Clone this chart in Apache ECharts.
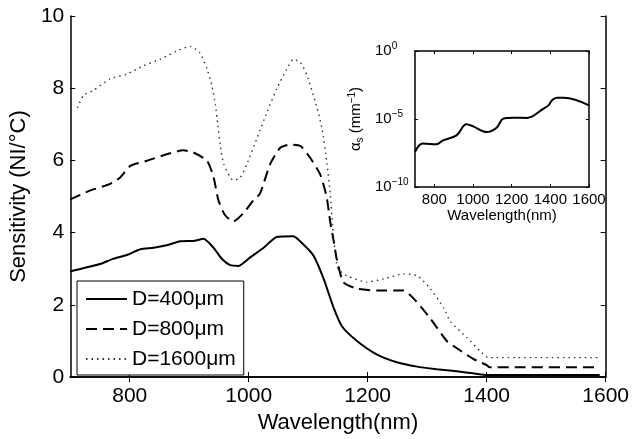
<!DOCTYPE html>
<html>
<head>
<meta charset="utf-8">
<script src="https://cdn.jsdelivr.net/npm/echarts@6/dist/echarts.min.js"></script>
<style>html,body{margin:0;padding:0;background:#fff}#c{width:632px;height:439px}</style>
</head>
<body>
<div id="c"></div>
<script>
// ---- main chart data ----
const x400 = [700,706,728,750,773,795,818,840,862,885,907,924,941,955,969,983,1002,1025,1047,1075,1092,1109,1126,1143,1157,1182,1215,1249,1283,1316,1350,1380,1400,1590];
const y400 = [2.92,2.95,3.04,3.13,3.28,3.38,3.54,3.58,3.65,3.76,3.77,3.83,3.58,3.27,3.10,3.08,3.31,3.58,3.88,3.90,3.67,3.36,2.72,1.91,1.40,1.00,0.63,0.41,0.29,0.22,0.16,0.10,0.06,0.06];

const x800 = [700,734,767,784,801,829,862,890,907,930,941,949,960,974,991,1008,1019,1036,1053,1070,1087,1103,1120,1131,1137,1143,1148,1159,1182,1215,1260,1277,1305,1333,1350,1378,1400,1405,1590];
const y800 = [4.92,5.17,5.35,5.53,5.85,5.99,6.17,6.28,6.22,5.99,5.53,4.90,4.49,4.31,4.54,4.90,5.08,5.90,6.35,6.44,6.40,6.08,5.62,4.99,4.30,3.75,3.27,2.63,2.45,2.40,2.40,2.18,1.63,1.00,0.80,0.50,0.33,0.27,0.27];

const x1600 = [712,722,739,767,795,823,851,879,902,918,930,938,944,948,952,958,974,986,997,1014,1031,1047,1064,1075,1087,1098,1112,1123,1131,1137,1141,1145,1150,1165,1198,1227,1260,1283,1305,1328,1339,1367,1389,1403,1590];
const y1600 = [7.45,7.80,7.94,8.26,8.39,8.62,8.80,9.03,9.16,8.98,8.53,8.08,7.53,6.99,6.44,5.90,5.45,5.53,5.90,6.62,7.35,7.98,8.53,8.80,8.71,8.35,7.62,6.90,5.99,5.08,4.20,3.50,3.00,2.81,2.63,2.72,2.86,2.81,2.45,1.91,1.54,1.09,0.72,0.54,0.54];

const seriesNames = ['D=400\u03bcm','D=800\u03bcm','D=1600\u03bcm'];
const mainTicks = [800,1000,1200,1400,1600];

// ---- inset data (scattering coefficient, mm^-1) ----
const xInset = [700,741,811,845,915,966,1001,1070,1122,1157,1209,1278,1365,1390,1410,1434,1469,1600];
const yInset = [3.7e-8,1.55e-7,1.4e-7,2.7e-7,6.3e-7,4.1e-6,2.9e-6,1.1e-6,2.3e-6,1.07e-5,1.26e-5,1.2e-5,5.8e-5,1.0e-4,2.5e-4,3.7e-4,3.7e-4,1.0e-4];
const insetYTicks = [1e-10,1e-5,1];
const insetXTicks = [800,1000,1200,1400,1600];

const pair = (xs, ys) => xs.map((x, i) => [x, ys[i]]);
const FF = '"Liberation Sans", Arial, Helvetica, sans-serif';
const plain = v => String(v);

const chart = echarts.init(document.getElementById('c'), null, {renderer: 'canvas'});
const axLine = {show: true, lineStyle: {color: '#000', width: 1.5}};

function supLabel(v) {
  const e = Math.round(Math.log10(v));
  const s = (e < 0 ? '\u2212' : '') + Math.abs(e);
  return '{b|10}{s|' + s + '}';
}

chart.setOption({
  backgroundColor: '#fff',
  animation: false,
  textStyle: {fontFamily: FF, color: '#000'},
  grid: [
    {left: 70, top: 16, width: 536, height: 367, show: false},
    {left: 415, top: 51, width: 174, height: 136, show: true, backgroundColor: '#fff', borderWidth: 0}
  ],
  legend: {
    data: seriesNames,
    orient: 'vertical',
    left: 77, top: 281,
    borderColor: '#000', borderWidth: 1, backgroundColor: '#fff',
    padding: [7, 8, 5, 8],
    itemWidth: 41, itemHeight: 14, itemGap: 8,
    itemStyle: {opacity: 0},
    textStyle: {fontSize: 21, fontFamily: FF, color: '#000', lineHeight: 22}
  },
  xAxis: [
    {gridIndex: 0, type: 'value', min: 700, max: 1600, position: 'bottom',
     name: 'Wavelength(nm)', nameLocation: 'middle', nameGap: 32,
     nameTextStyle: {fontSize: 22, color: '#000', fontFamily: FF},
     axisLine: axLine, splitLine: {show: false},
     axisTick: {inside: true, length: 5, customValues: mainTicks, lineStyle: {color: '#000'}},
     axisLabel: {customValues: mainTicks, formatter: plain, fontSize: 21, color: '#000', margin: 9, fontFamily: FF}},
    {gridIndex: 0, type: 'value', min: 700, max: 1600, position: 'top',
     axisLine: axLine, splitLine: {show: false},
     axisTick: {inside: true, length: 5, customValues: mainTicks, lineStyle: {color: '#000'}},
     axisLabel: {show: false}},
    {gridIndex: 1, type: 'value', min: 700, max: 1600, position: 'bottom',
     name: 'Wavelength(nm)', nameLocation: 'middle', nameGap: 21,
     nameTextStyle: {fontSize: 15, color: '#000', fontFamily: FF},
     axisLine: axLine, splitLine: {show: false},
     axisTick: {inside: true, length: 3, customValues: insetXTicks, lineStyle: {color: '#000'}},
     axisLabel: {customValues: insetXTicks, formatter: plain, fontSize: 15, color: '#000', margin: 5, fontFamily: FF, hideOverlap: false}},
    {gridIndex: 1, type: 'value', min: 700, max: 1600, position: 'top',
     axisLine: axLine, splitLine: {show: false},
     axisTick: {inside: true, length: 3, customValues: insetXTicks, lineStyle: {color: '#000'}},
     axisLabel: {show: false}}
  ],
  yAxis: [
    {gridIndex: 0, type: 'value', min: 0, max: 10, interval: 2, position: 'left',
     name: 'Sensitivity (NI/\u00b0C)', nameLocation: 'middle', nameGap: 33, nameRotate: 90,
     nameTextStyle: {fontSize: 22, color: '#000', fontFamily: FF},
     axisLine: axLine, splitLine: {show: false},
     axisTick: {inside: true, length: 5, lineStyle: {color: '#000'}},
     axisLabel: {fontSize: 21, color: '#000', margin: 6, fontFamily: FF}},
    {gridIndex: 0, type: 'value', min: 0, max: 10, interval: 2, position: 'right',
     axisLine: axLine, splitLine: {show: false},
     axisTick: {inside: true, length: 5, lineStyle: {color: '#000'}},
     axisLabel: {show: false}},
    {gridIndex: 1, type: 'log', logBase: 10, min: 1e-10, max: 1, position: 'left',
     name: '{a|\u03b1}{sub|s}{a| (mm}{sup|\u22121}{a|)}', nameLocation: 'middle', nameGap: 50, nameRotate: 90,
     nameTextStyle: {fontSize: 15, color: '#000', fontFamily: FF,
       rich: {a: {fontSize: 15, fontFamily: FF}, sub: {fontSize: 10, fontFamily: FF, verticalAlign: 'bottom', padding: [8,0,0,0]}, sup: {fontSize: 10, fontFamily: FF, verticalAlign: 'top', padding: [0,0,8,0]}}},
     axisLine: axLine, splitLine: {show: false}, minorTick: {show: false},
     axisTick: {inside: true, length: 3, customValues: insetYTicks, lineStyle: {color: '#000'}},
     axisLabel: {customValues: insetYTicks, margin: 40, align: 'left', formatter: supLabel,
       rich: {b: {fontSize: 15, fontFamily: FF, color: '#000'}, s: {fontSize: 10, fontFamily: FF, color: '#000', verticalAlign: 'top', padding: [0,0,10,0]}}}},
    {gridIndex: 1, type: 'log', logBase: 10, min: 1e-10, max: 1, position: 'right',
     axisLine: axLine, splitLine: {show: false},
     axisTick: {inside: true, length: 3, customValues: insetYTicks, lineStyle: {color: '#000'}},
     axisLabel: {show: false}}
  ],
  series: [
    {name: seriesNames[0], type: 'line', xAxisIndex: 0, yAxisIndex: 0, data: pair(x400, y400),
     symbol: 'none', showSymbol: false, smooth: 0.2, lineStyle: {color: '#000', width: 2, type: 'solid'}, itemStyle: {color: '#000'}},
    {name: seriesNames[1], type: 'line', xAxisIndex: 0, yAxisIndex: 0, data: pair(x800, y800),
     symbol: 'none', showSymbol: false, smooth: 0.2, lineStyle: {color: '#000', width: 2, type: [11, 6]}, itemStyle: {color: '#000'}},
    {name: seriesNames[2], type: 'line', xAxisIndex: 0, yAxisIndex: 0, data: pair(x1600, y1600),
     symbol: 'none', showSymbol: false, smooth: 0.2, lineStyle: {color: '#333', width: 1.4, type: [1.5, 4]}, itemStyle: {color: '#333'}},
    {name: 'alpha', type: 'line', xAxisIndex: 2, yAxisIndex: 2, data: pair(xInset, yInset),
     symbol: 'none', smooth: 0.4, lineStyle: {color: '#000', width: 2}, itemStyle: {color: '#000'}}
  ]
});
</script>
</body>
</html>
